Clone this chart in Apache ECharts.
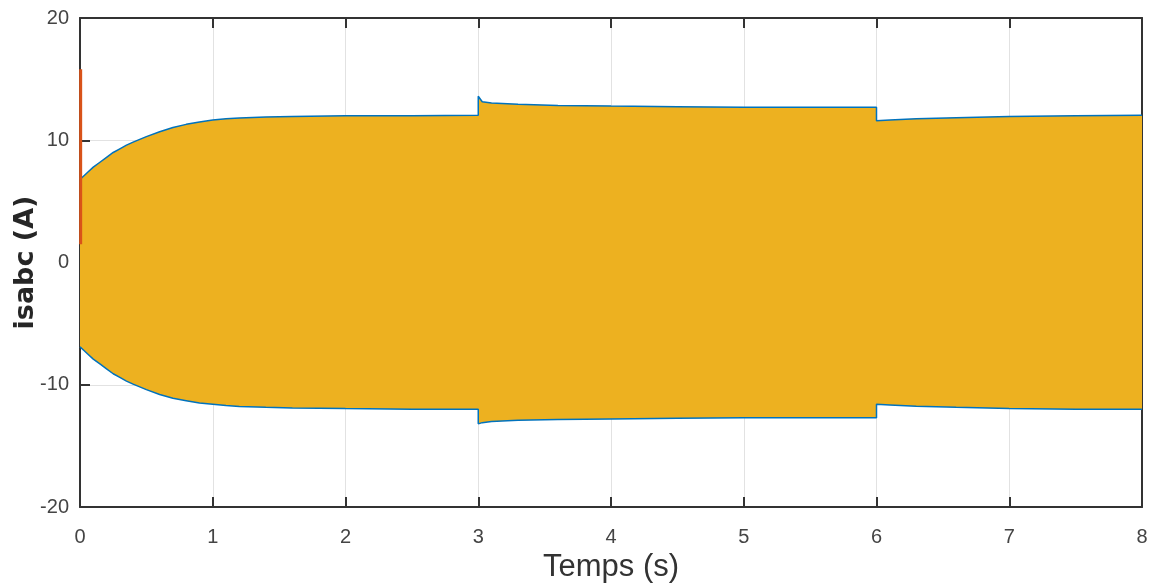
<!DOCTYPE html>
<html>
<head>
<meta charset="utf-8">
<script src="https://cdn.jsdelivr.net/npm/echarts@6/dist/echarts.min.js"></script>
<style>html,body{margin:0;padding:0;background:#fff;}#c{width:1150px;height:586px;}</style>
</head>
<body>
<div id="c"></div>
<script>
// Envelope of the three-phase stator currents isabc (A) vs time (s)
const timeUp = [0, 0.03, 0.06, 0.1, 0.15, 0.2, 0.25, 0.3, 0.35, 0.4, 0.5, 0.6, 0.7, 0.8, 0.9, 1.0, 1.1, 1.2, 1.4, 1.6, 2.0, 2.5, 3.0, 3.0, 3.03, 3.1, 3.3, 3.6, 4.0, 4.5, 5.0, 5.5, 6.0, 6.0, 6.1, 6.3, 6.6, 7.0, 7.5, 8.0];
const upper  = [6.8, 7.1, 7.4, 7.8, 8.2, 8.6, 9.0, 9.3, 9.6, 9.85, 10.3, 10.7, 11.05, 11.3, 11.5, 11.65, 11.75, 11.82, 11.9, 11.95, 12.0, 12.0, 12.05, 13.6, 13.15, 13.05, 12.95, 12.85, 12.8, 12.75, 12.7, 12.7, 12.7, 11.6, 11.65, 11.75, 11.85, 11.95, 12.0, 12.05];
const lower  = [-6.9, -7.2, -7.5, -7.9, -8.3, -8.7, -9.1, -9.4, -9.7, -9.95, -10.4, -10.8, -11.1, -11.3, -11.5, -11.6, -11.7, -11.78, -11.85, -11.9, -11.95, -12.0, -12.0, -13.2, -13.1, -13.0, -12.9, -12.85, -12.8, -12.75, -12.7, -12.7, -12.7, -11.6, -11.65, -11.75, -11.85, -11.95, -12.0, -12.0];
const spikeT = [0.005, 0.005];
const spikeV = [15.8, 1.5];
const xTicks = [0, 1, 2, 3, 4, 5, 6, 7, 8];
const yTicks = [-20, -10, 0, 10, 20];

const pairs = (xs, ys) => xs.map((x, i) => [x, ys[i]]);
const tickFont = '"Liberation Sans", Arial, sans-serif';
const axisCol = '#333333';

const chart = echarts.init(document.getElementById('c'), null, {renderer: 'canvas'});
const common = {
  axisLine: {show: true, onZero: false, lineStyle: {color: axisCol, width: 2}},
  axisTick: {show: true, inside: true, length: 10, lineStyle: {color: axisCol, width: 2}},
};
function renderBand(params, api) {
  const pts = [];
  for (let i = 0; i < timeUp.length; i++) pts.push(api.coord([timeUp[i], upper[i]]));
  for (let i = timeUp.length - 1; i >= 0; i--) pts.push(api.coord([timeUp[i], lower[i]]));
  return {type: 'polygon', shape: {points: pts}, style: {fill: '#EDB120', stroke: null}};
}
chart.setOption({
  animation: false,
  backgroundColor: '#ffffff',
  grid: {left: 80, right: 8, top: 18, bottom: 79, containLabel: false, outerBoundsMode: 'none'},
  xAxis: [
    Object.assign({
      type: 'value', min: xTicks[0], max: xTicks[xTicks.length - 1], interval: 1,
      name: 'Temps (s)', nameLocation: 'middle', nameGap: 45,
      nameTextStyle: {fontFamily: tickFont, fontSize: 31, color: '#333'},
      axisLabel: {fontFamily: tickFont, fontSize: 20, color: '#444', margin: 20},
      splitLine: {show: true, lineStyle: {color: '#e2e2e2', width: 1}},
    }, common),
    Object.assign({
      type: 'value', position: 'top', min: xTicks[0], max: xTicks[xTicks.length - 1], interval: 1,
      axisLabel: {show: false}, splitLine: {show: false},
    }, common),
  ],
  yAxis: [
    Object.assign({
      type: 'value', min: yTicks[0], max: yTicks[yTicks.length - 1], interval: 10,
      name: 'isabc (A)', nameLocation: 'middle', nameGap: 41, nameRotate: 90, nameMoveOverlap: false,
      nameTextStyle: {fontFamily: '"DejaVu Sans", sans-serif', fontWeight: 'bold', fontSize: 27, color: '#262626'},
      axisLabel: {fontFamily: tickFont, fontSize: 20, color: '#444', margin: 11},
      splitLine: {show: true, lineStyle: {color: '#e2e2e2', width: 1}},
    }, common),
    Object.assign({
      type: 'value', position: 'right', min: yTicks[0], max: yTicks[yTicks.length - 1], interval: 10,
      axisLabel: {show: false}, splitLine: {show: false},
    }, common),
  ],
  series: [
    {type: 'custom', name: 'band', renderItem: renderBand, data: [[timeUp[0], upper[0]]], clip: true, z: 2, silent: true},
    {type: 'line', name: 'isa+', data: pairs(timeUp, upper), symbol: 'none',
     lineStyle: {color: '#0072BD', width: 1.5}, z: 3},
    {type: 'line', name: 'isa-', data: pairs(timeUp, lower), symbol: 'none',
     lineStyle: {color: '#0072BD', width: 1.5}, z: 3},
    {type: 'line', name: 'isb', data: pairs(spikeT, spikeV), symbol: 'none',
     lineStyle: {color: '#D95319', width: 3}, z: 4},
  ],
});
</script>
</body>
</html>
